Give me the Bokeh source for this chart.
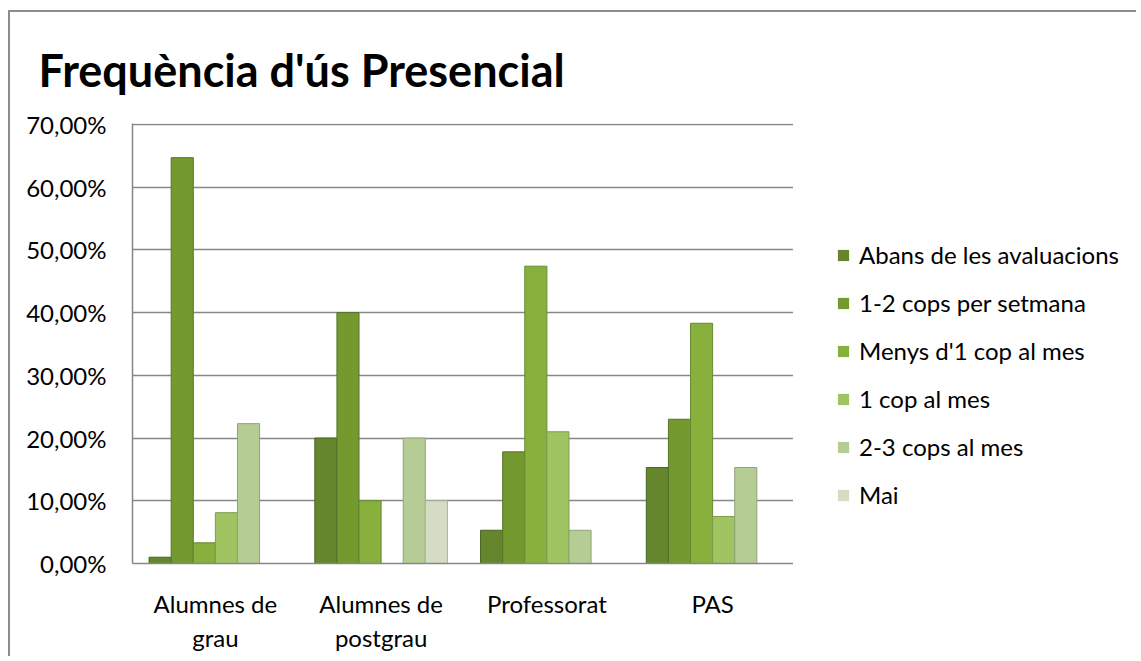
from bokeh.plotting import figure
from bokeh.layouts import row
from bokeh.models import (FactorRange, ColumnDataSource, Legend, LegendItem,
                          FixedTicker, CustomJSTickFormatter, Range1d)
from bokeh.transform import dodge
from bokeh.embed import file_html
from bokeh.resources import INLINE

# ---- data ----
categories = ["Alumnes de\ngrau", "Alumnes de\npostgrau", "Professorat", "PAS"]
series_names = ["Abans de les avaluacions", "1-2 cops per setmana",
                "Menys d'1 cop al mes", "1 cop al mes", "2-3 cops al mes", "Mai"]
abans = [1.0, 20.0, 5.3, 15.3]
cops_1_2 = [64.7, 40.0, 17.8, 23.0]
menys_1 = [3.3, 10.0, 47.4, 38.3]
cop_1 = [8.1, 0.0, 21.0, 7.5]
cops_2_3 = [22.3, 20.0, 5.3, 15.3]
mai = [0.0, 10.0, 0.0, 0.0]
y_ticks = [0, 10, 20, 30, 40, 50, 60, 70]

series_values = [abans, cops_1_2, menys_1, cop_1, cops_2_3, mai]
fills = ["#66862d", "#74992f", "#88b03c", "#a0c462", "#b5cc95", "#d5dcc4"]
lines = ["#4a6220", "#56732a", "#678a30", "#7d9d4c", "#8fa477", "#a9b39b"]

src = ColumnDataSource(dict(cat=categories,
                            **{f"s{i}": v for i, v in enumerate(series_values)}))

FONT = "Lato"
GRAY = "#8c8c8c"

# ---- main chart ----
p = figure(x_range=FactorRange(factors=categories, range_padding=0),
           y_range=Range1d(0, 70.15),
           width=785, height=646,
           output_backend="svg", toolbar_location=None,
           min_border_left=122, min_border_right=0,
           min_border_top=111, min_border_bottom=95)
p.margin = (10, 0, 0, 8)
p.styles = {"border-left": f"2px solid {GRAY}", "border-top": f"2px solid {GRAY}"}

n = len(series_names)
bw = 0.8 / n
for i, name in enumerate(series_names):
    off = -0.4 + bw * (i + 0.5)
    p.vbar(x=dodge("cat", off, range=p.x_range), top=f"s{i}", width=bw,
           source=src, fill_color=fills[i], line_color=lines[i], line_width=1)

# title
p.title.text = "Frequència d'ús Presencial"
p.title.text_font = FONT
p.title.text_font_style = "bold"
p.title.text_font_size = "45px"
p.title.text_color = "#000000"
p.title.align = "left"
p.title.offset = -94
p.title.standoff = 54

# axes
p.yaxis.ticker = FixedTicker(ticks=y_ticks)
p.yaxis.formatter = CustomJSTickFormatter(code="return tick.toFixed(2).replace('.', ',') + '%';")
for ax in (p.xaxis[0], p.yaxis[0]):
    ax.axis_line_color = "#868686"
    ax.axis_line_width = 1.5
    ax.major_tick_line_color = None
    ax.minor_tick_line_color = None
    ax.major_label_text_font = FONT
    ax.major_label_text_font_size = "24px"
    ax.major_label_text_color = "#000000"
p.yaxis.major_label_standoff = 20
p.xaxis.major_label_standoff = 19

p.xgrid.grid_line_color = None
p.ygrid.grid_line_color = "#868686"
p.ygrid.grid_line_width = 1.5
p.outline_line_color = None
p.background_fill_color = "#ffffff"
p.border_fill_color = "#ffffff"

# ---- legend panel (its frame is aligned with the chart's frame by the row) ----
leg = figure(width=343, height=646,
             x_range=FactorRange(factors=categories), y_range=Range1d(1000, 1001),
             x_axis_type=None, y_axis_type=None,
             output_backend="svg", toolbar_location=None, min_border=0)
leg.margin = (10, 0, 0, 0)
leg.styles = {"border-top": f"2px solid {GRAY}"}
leg.grid.grid_line_color = None
leg.outline_line_color = None

items = []
for i, name in enumerate(series_names):
    # zero-width renderers: nothing is drawn in this panel except legend swatches
    r = leg.vbar(x="cat", top=f"s{i}", width=0, source=src,
                 fill_color=fills[i], line_color=None)
    items.append(LegendItem(label=name, renderers=[r]))

legend = Legend(items=items, location=(43, 54), orientation="vertical",
                padding=0, margin=0, spacing=19, label_height=28,
                glyph_width=14, glyph_height=14, label_standoff=9,
                background_fill_alpha=0, border_line_color=None,
                label_text_font=FONT, label_text_font_size="24px",
                label_text_color="#000000")
leg.add_layout(legend)

layout = row(p, leg, spacing=0)
open("out.html", "w").write(file_html(layout, INLINE))
